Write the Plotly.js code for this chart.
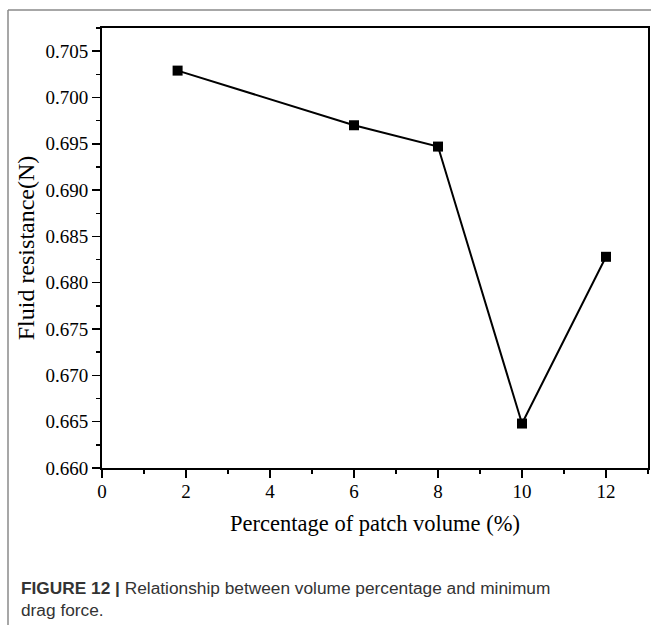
<!DOCTYPE html>
<html>
<head>
<meta charset="utf-8">
<script src="https://cdn.plot.ly/plotly-3.0.1.min.js"></script>
<style>
  html, body { margin: 0; padding: 0; background: #fff; }
  #chart { width: 651px; height: 625px; }
</style>
</head>
<body>
<div id="chart"></div>
<script>
// Patch volume share (%) and the matching fluid resistance (N)
const patchVolume = [1.8, 6, 8, 10, 12];
const fluidResistance = [0.7029, 0.6970, 0.6947, 0.6648, 0.6828];

const xTickValues = [0, 2, 4, 6, 8, 10, 12];
const yTickValues = [0.660, 0.665, 0.670, 0.675, 0.680, 0.685, 0.690, 0.695, 0.700, 0.705];
const yTickLabels = ['0.660', '0.665', '0.670', '0.675', '0.680', '0.685', '0.690', '0.695', '0.700', '0.705'];

const captionText = '<b>FIGURE 12 |</b> Relationship between volume percentage and minimum<br>drag force.';

const serif = 'Liberation Serif, Times New Roman, serif';

const W = 651, H = 625;
const M = { l: 102, r: 3, t: 28, b: 157 };
const pw = W - M.l - M.r, ph = H - M.t - M.b;
// pixel -> paper helpers for the frame lines and caption
const px = x => (x - M.l) / pw;
const py = y => (H - M.b - y) / ph;

const trace = {
  x: patchVolume,
  y: fluidResistance,
  type: 'scatter',
  mode: 'lines+markers',
  line: { color: '#000', width: 2 },
  marker: { symbol: 'square', size: 10, color: '#000' },
  hoverinfo: 'x+y'
};

const axisCommon = {
  showline: true,
  linecolor: '#000',
  linewidth: 2,
  mirror: true,
  ticks: 'outside',
  ticklen: 8,
  tickwidth: 1.5,
  tickcolor: '#000',
  showgrid: false,
  zeroline: false,
  tickfont: { family: serif, size: 19, color: '#000' }
};

const layout = {
  width: W,
  height: H,
  margin: M,
  paper_bgcolor: '#fff',
  plot_bgcolor: '#fff',
  showlegend: false,
  xaxis: Object.assign({}, axisCommon, {
    range: [0, 13],
    tickmode: 'array',
    tickvals: xTickValues,
    ticktext: xTickValues.map(String),
    ticklabelstandoff: -3,
    minor: { dtick: 1, tick0: 0, ticks: 'outside', ticklen: 4, tickwidth: 1.5, tickcolor: '#000', showgrid: false },
    title: { text: 'Percentage of patch volume (%)', font: { family: serif, size: 22.5, color: '#000' }, standoff: 14 }
  }),
  yaxis: Object.assign({}, axisCommon, {
    range: [0.660, 0.7075],
    tickmode: 'array',
    tickvals: yTickValues,
    ticktext: yTickLabels,
    minor: { dtick: 0.0025, tick0: 0.66, ticks: 'outside', ticklen: 4, tickwidth: 1.5, tickcolor: '#000', showgrid: false },
    title: { text: 'Fluid resistance(N)', font: { family: serif, size: 24, color: '#000' }, standoff: 4 }
  }),
  shapes: [
    // figure frame: top and left rules
    { type: 'line', xref: 'paper', yref: 'paper', x0: px(8), x1: px(651), y0: py(10), y1: py(10), line: { color: '#8a8a8a', width: 1.5 } },
    { type: 'line', xref: 'paper', yref: 'paper', x0: px(8), x1: px(8), y0: py(10), y1: py(625), line: { color: '#8a8a8a', width: 1.5 } }
  ],
  annotations: [
    {
      xref: 'paper', yref: 'paper',
      x: px(19), y: py(599),
      xanchor: 'left', yanchor: 'middle',
      align: 'left',
      showarrow: false,
      text: captionText,
      font: { family: 'Liberation Sans, Arial, sans-serif', size: 17.3, color: '#333' }
    }
  ]
};

Plotly.newPlot('chart', [trace], layout, { displayModeBar: false, staticPlot: true });
</script>
</body>
</html>
